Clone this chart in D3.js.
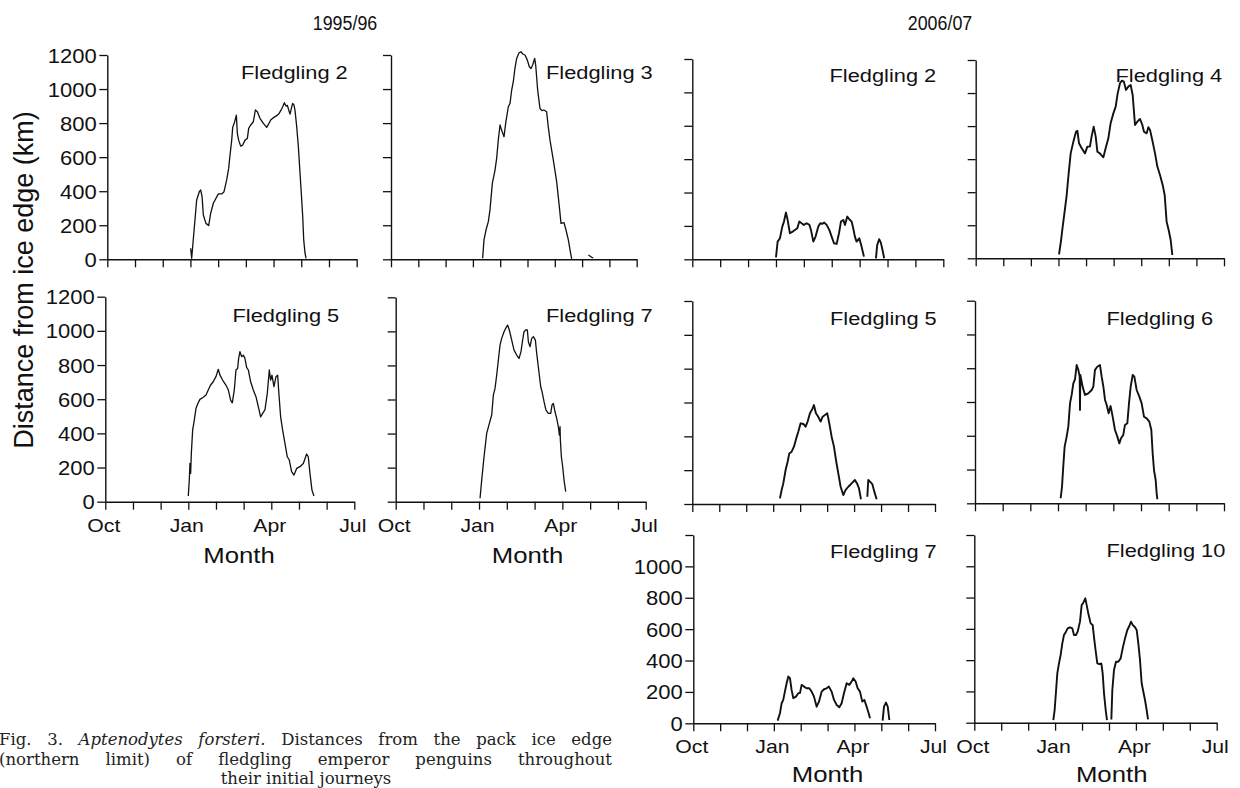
<!DOCTYPE html>
<html><head><meta charset="utf-8">
<script src="https://cdn.jsdelivr.net/npm/d3@7"></script>
<style>
html,body{margin:0;padding:0;background:#fff;}
svg{display:block;}
</style></head><body>
<svg id="chart" width="1240" height="788"></svg>
<script>
// ---------- data ----------
const monthTicks = [0,1,2,3,4,5,6,7,8,9];          // Oct .. Jul (months since 1 Oct)
const monthLabels = {0:"Oct",3:"Jan",6:"Apr",9:"Jul"};
const kmTicks = [0,200,400,600,800,1000,1200];
const kmLabelsFull = [0,200,400,600,800,1000,1200];
const kmLabelsNoTop = [0,200,400,600,800,1000];
const seasons = ["1995/96","2006/07"];
const yTitle = "Distance from ice edge (km)";
const xTitle = "Month";

// [month since 1 Oct, km from ice edge]; null = gap
const y9596_f2 = [[3.008,65],[3.045,6],[3.225,348],[3.32,397],[3.37,407],[3.42,368],[3.466,260],[3.56,211],[3.658,198],[3.73,270],[3.827,329],[4.007,384],[4.128,384],[4.212,397],[4.308,466],[4.38,534],[4.428,612],[4.49,700],[4.525,775],[4.597,808],[4.657,847],[4.693,740],[4.74,700],[4.813,665],[4.886,671],[4.97,700],[5.054,710],[5.102,769],[5.175,789],[5.27,808],[5.343,877],[5.415,867],[5.51,828],[5.632,798],[5.752,775],[5.824,795],[5.896,818],[5.993,832],[6.089,841],[6.185,853],[6.258,873],[6.33,896],[6.39,920],[6.45,900],[6.498,904],[6.546,877],[6.594,853],[6.643,887],[6.69,916],[6.739,906],[6.775,873],[6.835,779],[6.895,661],[6.955,505],[7.016,348],[7.052,250],[7.088,114],[7.136,35],[7.172,6]];
const y9596_f3 = [[3.357,6],[3.406,114],[3.48,172],[3.565,221],[3.626,290],[3.712,446],[3.81,524],[3.87,593],[3.93,700],[3.993,789],[4.05,759],[4.14,720],[4.2,798],[4.298,896],[4.36,916],[4.42,994],[4.48,1043],[4.54,1121],[4.603,1180],[4.69,1213],[4.762,1219],[4.823,1206],[4.908,1200],[4.994,1170],[5.067,1131],[5.128,1121],[5.19,1141],[5.263,1180],[5.3,1141],[5.372,994],[5.458,886],[5.53,873],[5.6,877],[5.7,867],[5.76,779],[5.824,700],[5.946,583],[6.068,456],[6.166,309],[6.227,211],[6.337,215],[6.41,172],[6.496,114],[6.58,35],[6.618,2],null,[7.23,25],[7.3,18],[7.35,12],[7.41,8]];
const y9596_f5 = [[3.0,33],[3.036,127],[3.06,224],[3.085,166],[3.11,283],[3.157,419],[3.217,478],[3.277,546],[3.35,576],[3.42,599],[3.54,611],[3.64,624],[3.72,654],[3.807,683],[3.9,702],[4.0,732],[4.084,775],[4.145,741],[4.24,712],[4.36,683],[4.446,654],[4.53,595],[4.59,579],[4.663,654],[4.723,771],[4.783,780],[4.82,839],[4.867,878],[4.928,849],[4.988,858],[5.048,839],[5.108,786],[5.17,771],[5.253,702],[5.35,654],[5.446,615],[5.53,556],[5.614,497],[5.687,517],[5.77,537],[5.855,634],[5.928,771],[5.976,712],[6.024,741],[6.096,673],[6.17,732],[6.23,741],[6.265,654],[6.337,497],[6.41,419],[6.494,341],[6.578,263],[6.65,244],[6.735,176],[6.82,156],[6.916,195],[7.036,205],[7.157,224],[7.277,279],[7.337,263],[7.398,166],[7.47,68],[7.54,33]];
const y9596_f7 = [[3.036,20],[3.096,127],[3.18,264],[3.276,401],[3.372,460],[3.456,509],[3.516,626],[3.576,665],[3.636,744],[3.696,832],[3.756,920],[3.816,959],[3.9,998],[3.96,1018],[4.03,1037],[4.09,1008],[4.176,949],[4.26,890],[4.356,861],[4.44,841],[4.51,881],[4.57,949],[4.62,998],[4.68,1008],[4.74,1008],[4.776,939],[4.836,910],[4.896,959],[4.956,969],[5.028,949],[5.076,871],[5.148,773],[5.22,675],[5.268,646],[5.34,587],[5.41,538],[5.496,519],[5.58,519],[5.628,568],[5.676,577],[5.736,528],[5.796,489],[5.856,440],[5.892,391],[5.916,440],[5.928,362],[5.964,264],[6.012,205],[6.06,127],[6.12,59]];
const y0607_f2 = [[3.0,12],[3.06,106],[3.143,126],[3.227,196],[3.287,226],[3.358,280],[3.418,236],[3.5,156],[3.6,166],[3.68,176],[3.765,186],[3.837,226],[3.92,216],[4.0,206],[4.1,216],[4.2,206],[4.255,176],[4.34,106],[4.42,136],[4.518,196],[4.59,216],[4.66,212],[4.733,220],[4.816,206],[4.912,176],[4.996,136],[5.08,96],[5.175,92],[5.26,156],[5.33,226],[5.414,236],[5.474,206],[5.557,256],[5.63,240],[5.713,226],[5.77,186],[5.83,136],[5.89,106],[5.988,126],[6.07,76],[6.155,16],null,[6.585,6],[6.63,86],[6.7,120],[6.76,100],[6.82,56],[6.88,6]];
const y0607_f4 = [[3.02,24],[3.08,91],[3.153,192],[3.238,302],[3.298,383],[3.358,494],[3.443,635],[3.54,706],[3.636,766],[3.685,772],[3.745,696],[3.842,666],[3.962,635],[4.047,676],[4.14,676],[4.2,736],[4.276,797],[4.35,736],[4.41,645],[4.5,635],[4.627,611],[4.71,666],[4.808,726],[4.89,817],[4.99,877],[5.074,918],[5.146,998],[5.23,1059],[5.3,1075],[5.37,1069],[5.448,1019],[5.533,1039],[5.617,1049],[5.69,988],[5.774,807],[5.86,827],[5.956,843],[6.04,807],[6.1,766],[6.197,756],[6.258,793],[6.318,777],[6.4,716],[6.5,635],[6.584,555],[6.68,504],[6.777,444],[6.85,383],[6.92,222],[6.994,171],[7.067,111],[7.127,20]];
const y0607_f5 = [[3.25,33],[3.313,83],[3.375,122],[3.46,201],[3.535,250],[3.597,299],[3.684,309],[3.77,339],[3.844,382],[3.93,427],[4.017,477],[4.116,473],[4.2,457],[4.277,487],[4.363,536],[4.462,565],[4.51,585],[4.585,536],[4.67,516],[4.76,487],[4.833,516],[4.92,526],[5.006,536],[5.08,477],[5.167,398],[5.253,339],[5.328,260],[5.414,181],[5.5,102],[5.6,53],[5.686,83],[5.785,102],[5.909,122],[6.03,142],[6.12,118],[6.18,93],[6.255,28],null,[6.49,43],[6.526,142],[6.59,132],[6.675,118],[6.75,73],[6.836,28]];
const y0607_f6 = [[3.096,30],[3.145,99],[3.19,217],[3.24,336],[3.313,395],[3.373,454],[3.434,592],[3.494,642],[3.554,711],[3.614,734],[3.675,819],[3.735,790],[3.783,750],[3.795,553],[3.807,760],[3.89,691],[3.976,642],[4.096,651],[4.217,671],[4.277,691],[4.337,790],[4.42,809],[4.518,819],[4.578,750],[4.64,691],[4.7,612],[4.76,582],[4.83,533],[4.9,576],[4.976,513],[5.06,434],[5.145,395],[5.217,355],[5.277,385],[5.36,405],[5.42,464],[5.506,474],[5.566,592],[5.627,691],[5.7,760],[5.76,750],[5.843,671],[5.94,632],[6.024,592],[6.108,513],[6.205,503],[6.3,484],[6.373,434],[6.422,296],[6.47,197],[6.53,138],[6.566,59],[6.59,24]];
const y0607_f7 = [[3.14,17],[3.227,64],[3.29,128],[3.35,149],[3.41,202],[3.476,255],[3.538,298],[3.6,287],[3.66,213],[3.724,160],[3.823,170],[3.91,192],[3.972,192],[4.034,245],[4.12,234],[4.22,223],[4.32,223],[4.407,202],[4.494,170],[4.593,106],[4.68,138],[4.78,202],[4.866,217],[4.965,223],[5.05,234],[5.15,202],[5.24,149],[5.34,117],[5.437,102],[5.524,128],[5.61,192],[5.71,255],[5.81,245],[5.896,266],[5.958,287],[6.045,266],[6.12,223],[6.207,202],[6.293,138],[6.368,149],[6.455,106],[6.53,64],[6.58,32],null,[7.05,17],[7.1,106],[7.175,132],[7.24,106],[7.3,21]];
const y0607_f10 = [[2.934,17],[2.983,81],[3.033,198],[3.082,315],[3.144,379],[3.206,433],[3.268,507],[3.33,561],[3.404,582],[3.466,603],[3.553,610],[3.64,603],[3.701,561],[3.776,561],[3.838,582],[3.924,646],[3.986,752],[4.048,767],[4.122,795],[4.172,752],[4.246,688],[4.32,635],[4.394,625],[4.456,529],[4.518,443],[4.568,379],[4.642,375],[4.716,379],[4.766,315],[4.816,188],[4.878,81],[4.927,17],null,[5.088,21],[5.125,209],[5.187,337],[5.26,390],[5.348,390],[5.434,411],[5.509,475],[5.595,539],[5.682,593],[5.756,618],[5.818,646],[5.88,625],[5.954,614],[6.029,593],[6.09,507],[6.152,401],[6.214,252],[6.276,198],[6.338,145],[6.4,81],[6.45,21]];

const captionLines = [
  [["Fig. 3. ","normal"],["Aptenodytes forsteri.","italic"],[" Distances from the pack ice edge","normal"]],
  [["(northern limit) of fledgling emperor penguins throughout","normal"]],
  [["their initial journeys","normal"]]
];

// ---------- layout ----------
const panels = [
  {data:y9596_f2, label:"Fledgling 2", x0:107.3,x1:356.7,yTop:55,  y0:259.3, yLab:kmLabelsFull, xLab:false, lx:241,   ly:78.5, lw:1.3},
  {data:y9596_f3, label:"Fledgling 3", x0:391,  x1:636.7,yTop:55,  y0:259.3, yLab:null, xLab:false, lx:546,   ly:78.5, lw:1.3},
  {data:y0607_f2, label:"Fledgling 2", x0:692.3,x1:943.3,yTop:59,  y0:259.3, yLab:null, xLab:false, lx:829.5, ly:81.5, lw:1.9},
  {data:y0607_f4, label:"Fledgling 4", x0:975.7,x1:1224, yTop:60,  y0:258.3, yLab:null, xLab:false, lx:1115.5,ly:81.5, lw:1.9},
  {data:y9596_f5, label:"Fledgling 5", x0:105.3,x1:354.3,yTop:296.7,y0:501.7,yLab:kmLabelsFull, xLab:true, lx:232.5, ly:321.5, lw:1.3, mx:239},
  {data:y9596_f7, label:"Fledgling 7", x0:395.7,x1:645.7,yTop:297.3,y0:501.7,yLab:null, xLab:true, lx:546,   ly:322, lw:1.3, mx:527.5},
  {data:y0607_f5, label:"Fledgling 5", x0:692.3,x1:935,  yTop:301,  y0:504,  yLab:null, xLab:false, lx:830,   ly:325, lw:1.9},
  {data:y0607_f6, label:"Fledgling 6", x0:975,  x1:1224, yTop:300.7,y0:503.3,yLab:null, xLab:false, lx:1106.5,ly:325, lw:1.9},
  {data:y0607_f7, label:"Fledgling 7", x0:693.3,x1:935,  yTop:535,  y0:723.3,yLab:kmLabelsNoTop, xLab:true, lx:830, ly:558, lw:1.9, mx:827.5, mdy:59},
  {data:y0607_f10,label:"Fledgling 10",x0:974.3,x1:1216.7,yTop:535, y0:722.7,yLab:null, xLab:true, lx:1106.5,ly:556.5, lw:1.9, mx:1111.7, mdy:59}
];

const FONT = "'Liberation Sans', Arial, Helvetica, sans-serif";
const INK = "#111";
const svg = d3.select("#chart");

panels.forEach(p => {
  const x = d3.scaleLinear().domain([0,9]).range([p.x0,p.x1]);
  const y = d3.scaleLinear().domain([0,1200]).range([p.y0,p.yTop]);
  const g = svg.append("g");

  const ya = d3.axisLeft(y).tickValues(kmTicks).tickSize(8).tickSizeOuter(0)
    .tickFormat(d => (p.yLab && p.yLab.includes(d)) ? String(d) : "");
  const gy = g.append("g").attr("transform",`translate(${p.x0},0)`).call(ya);
  gy.selectAll("text").attr("font-family",FONT).attr("font-size",19.5).attr("fill",INK)
    .attr("x",-10.5/1.13).attr("dy","0.36em").attr("transform","scale(1.13,1)");

  const xa = d3.axisBottom(x).tickValues(monthTicks).tickSize(8).tickSizeOuter(0)
    .tickFormat(d => p.xLab ? (monthLabels[d] || "") : "");
  const gx = g.append("g").attr("transform",`translate(0,${p.y0})`).call(xa);
  gx.selectAll("text").attr("font-family",FONT).attr("font-size",18).attr("fill",INK)
    .attr("x",-2/1.18).attr("y",30).attr("dy",0).attr("transform","scale(1.18,1)");

  [gy,gx].forEach(a => {
    a.select(".domain").attr("stroke",INK).attr("stroke-width",1.4);
    a.selectAll(".tick line").attr("stroke",INK).attr("stroke-width",1.3);
  });

  const line = d3.line().defined(d => d !== null).x(d => x(d[0])).y(d => y(d[1]));
  g.append("path").datum(p.data).attr("d",line).attr("fill","none")
    .attr("stroke",INK).attr("stroke-width",p.lw).attr("stroke-linejoin","round");

  g.append("text").attr("transform",`translate(${p.lx},${p.ly}) scale(1.18,1)`)
    .attr("font-family",FONT).attr("font-size",18.5).attr("fill",INK).text(p.label);

  if (p.xLab) {
    g.append("text").attr("transform",`translate(${p.mx},${p.y0 + (p.mdy||61)}) scale(1.12,1)`)
      .attr("text-anchor","middle").attr("font-family",FONT).attr("font-size",23).attr("fill",INK).text(xTitle);
  }
});

// season headers
const headerX = [345, 940];
seasons.forEach((s,i) => {
  svg.append("text").attr("transform",`translate(${headerX[i]},30) scale(0.85,1)`)
    .attr("text-anchor","middle").attr("font-family",FONT).attr("font-size",21).attr("fill",INK).text(s);
});

// y title
svg.append("text").attr("transform","translate(33,280) rotate(-90)")
  .attr("text-anchor","middle").attr("font-family",FONT).attr("font-size",27).attr("fill",INK).text(yTitle);

// caption (justified lines 1-2, centred line 3)
const capY = [745, 764.5, 784];
const capW = 613;
captionLines.forEach((parts,i) => {
  const t = svg.append("text").attr("y",capY[i]).attr("font-family","'DejaVu Serif','Liberation Serif',serif")
    .attr("font-size",16.5).attr("fill","#222");
  parts.forEach(([s,st]) => t.append("tspan").attr("font-style",st).text(s));
  const w = t.node().getComputedTextLength();
  if (i < 2) {
    const spaces = parts.map(p=>p[0]).join("").split(" ").length - 1;
    t.attr("x",-1);
    if (w < capW) t.style("word-spacing", ((capW - w)/spaces) + "px");
    else t.attr("textLength",capW).attr("lengthAdjust","spacingAndGlyphs");
  } else {
    t.attr("x",306).attr("text-anchor","middle");
  }
});
</script>
</body></html>
